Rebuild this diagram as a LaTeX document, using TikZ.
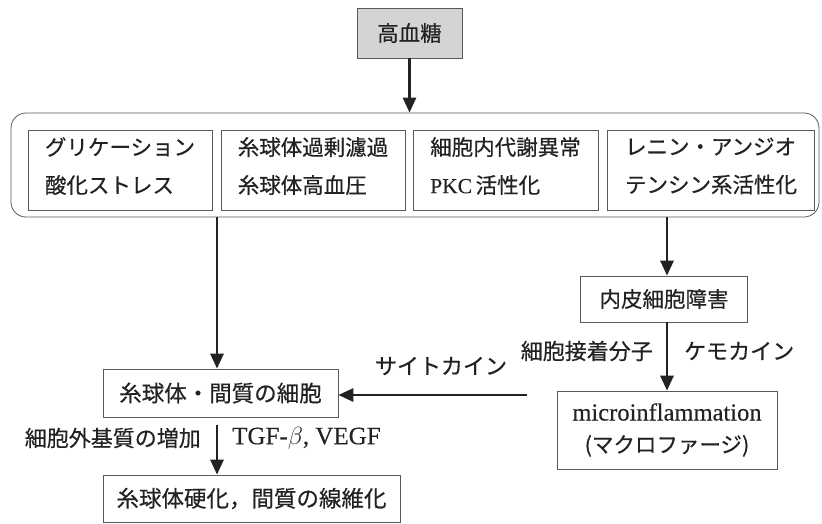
\documentclass[tikz,border=0pt]{standalone}
\usepackage{fontspec}
\setmainfont{Liberation Serif}[FakeBold=0.3]
\newfontfamily\jp{Noto Sans CJK JP}[FakeBold=0.5]
\usetikzlibrary{arrows.meta}
\definecolor{ink}{HTML}{222222}
\definecolor{boxgray}{HTML}{D4D4D4}
\tikzset{
  box/.style={draw=ink!75, line width=0.7pt, inner sep=0pt, text=ink, font=\fontsize{21.5}{38}\selectfont\jp},
  boxtext/.style={inner sep=0pt, text=ink, align=left, font=\fontsize{21.5}{38}\selectfont\jp, yshift=4pt},
  arr/.style={draw=ink, line width=2.8pt, -{Triangle[length=15pt,width=13pt]}},
  lbl/.style={text=ink, inner sep=0pt, font=\fontsize{22}{24}\selectfont\jp},
}
\begin{document}
\begin{tikzpicture}[x=1pt,y=-1pt]
\useasboundingbox (0,0) rectangle (822,523);
% top box
\node[box, fill=boxgray, minimum width=105pt, minimum height=50pt] (hg) at (409.5,33) {高血糖};
% container
\node[draw=ink!75, line width=0.8pt, rounded corners=15pt, minimum width=808pt, minimum height=104pt, inner sep=0pt] (cont) at (415,165) {};
% four boxes
\node[box, minimum width=184pt, minimum height=80pt] (b1) at (120,170) {};
\node[box, minimum width=184pt, minimum height=80pt] (b2) at (313,170) {};
\node[box, minimum width=185pt, minimum height=80pt] (b3) at (505.5,170) {};
\node[box, minimum width=207pt, minimum height=80pt] (b4) at (711,170) {};
\node[boxtext] (t1) at (b1) {グリケーション\\酸化ストレス};
\node[boxtext] (t2) at (b2) {糸球体過剰濾過\\糸球体高血圧};
\node[boxtext] (t3) at (b3) {細胞内代謝異常\\{\rmfamily PKC}\,活性化};
\node[boxtext] (t4) at (b4) {レニン・アンジオ\\テンシン系活性化};
% left path
\node[box, minimum width=235pt, minimum height=48pt, font=\fontsize{22.5}{30}\selectfont\jp] (cell) at (220.5,393) {糸球体・間質の細胞};
\node[box, minimum width=297pt, minimum height=47pt, font=\fontsize{22.5}{30}\selectfont\jp] (scl) at (251.5,498.5) {糸球体硬化，間質の線維化};
% right path
\node[box, minimum width=167pt, minimum height=46pt] (endo) at (664,299) {内皮細胞障害};
\node[box, minimum width=220pt, minimum height=78pt, align=center, font=\fontsize{21.5}{32}\selectfont\jp] (micro) at (667,430) {{\rmfamily\fontsize{24.5}{32}\selectfont microinflammation}\\({\jp マクロファージ})};
% coordinates
\coordinate (cl) at (217,217);
\coordinate (cr) at (667,217);
\coordinate (ca) at (527,395);
\coordinate (d0) at (217,425);
% arrows
\draw[arr] (hg.south) -- (hg.south |- cont.north);
\draw[arr] (cl) -- (cl |- cell.north);
\draw[arr] (cr) -- (cr |- endo.north);
\draw[arr] (endo.south -| micro.north) -- (micro.north);
\draw[arr] (ca) -- (ca -| cell.east);
\draw[arr] (d0) -- (d0 |- scl.north);
% labels
\node[lbl, anchor=east] (l1) at (653,351) {細胞接着分子};
\node[lbl, anchor=west] (l2) at (684,351) {ケモカイン};
\node[lbl, anchor=center] (l3) at (441,366) {サイトカイン};
\node[lbl, anchor=east] (l4) at (201,438) {細胞外基質の増加};
\node[lbl, anchor=west, font=\fontsize{25}{26}\selectfont\rmfamily] (l5) at (232,438) {TGF-$\beta$, VEGF};
\end{tikzpicture}
\end{document}
